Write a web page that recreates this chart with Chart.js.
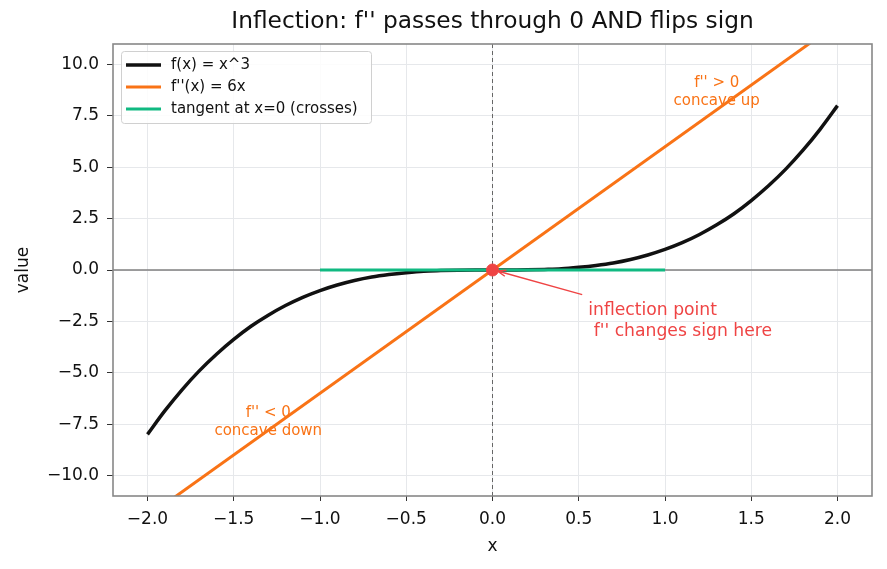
<!DOCTYPE html>
<html>
<head>
<meta charset="utf-8">
<script src="https://cdn.jsdelivr.net/npm/chart.js@4.4.1/dist/chart.umd.min.js"></script>
<style>
  html, body { margin: 0; padding: 0; background: #fff; }
  #chart { display: block; }
</style>
</head>
<body>
<canvas id="chart" width="887" height="569"></canvas>
<script>
// values
const cubeX = [-2, -1.9, -1.8, -1.7, -1.6, -1.5, -1.4, -1.3, -1.2, -1.1, -1, -0.9, -0.8, -0.7, -0.6, -0.5, -0.4, -0.3, -0.2, -0.1, 0,
               0.1, 0.2, 0.3, 0.4, 0.5, 0.6, 0.7, 0.8, 0.9, 1, 1.1, 1.2, 1.3, 1.4, 1.5, 1.6, 1.7, 1.8, 1.9, 2];
const cubeY = [-8, -6.86, -5.83, -4.91, -4.1, -3.38, -2.74, -2.2, -1.73, -1.33, -1, -0.73, -0.51, -0.34, -0.22, -0.13, -0.06, -0.03, -0.01, 0, 0,
               0, 0.01, 0.03, 0.06, 0.13, 0.22, 0.34, 0.51, 0.73, 1, 1.33, 1.73, 2.2, 2.74, 3.38, 4.1, 4.91, 5.83, 6.86, 8];
const secondX = [-2, 2];
const secondY = [-12, 12];
const tangentX = [-1, 1];
const tangentY = [0, 0];
const inflectionX = [0];
const inflectionY = [0];
const xTicks = [-2, -1.5, -1, -0.5, 0, 0.5, 1, 1.5, 2];
const yTicks = [-10, -7.5, -5, -2.5, 0, 2.5, 5, 7.5, 10];
const labels = ["f(x) = x^3", "f''(x) = 6x", "tangent at x=0 (crosses)"];

const FONT = "DejaVu Sans";
const BLACK = "#111111", ORANGE = "#f97316", GREEN = "#10b981", RED = "#ef4444";

const pts = (xs, ys) => xs.map((x, i) => ({ x: x, y: ys[i] }));
const fmt = v => (Math.abs(v) < 1e-9 ? "0.0" : v.toFixed(1).replace("-", "\u2212"));

// axis lines, frame, notes, legend
const extras = {
  id: "extras",
  beforeDatasetsDraw(chart) {
    const { ctx, chartArea: a, scales: { x, y } } = chart;
    ctx.save();
    ctx.beginPath();
    ctx.rect(a.left, a.top, a.right - a.left, a.bottom - a.top);
    ctx.clip();
    ctx.strokeStyle = "#808080";
    ctx.lineWidth = 1.3;
    ctx.beginPath();
    ctx.moveTo(a.left, y.getPixelForValue(0));
    ctx.lineTo(a.right, y.getPixelForValue(0));
    ctx.stroke();
    ctx.strokeStyle = "#666";
    ctx.lineWidth = 1;
    ctx.setLineDash([4, 3]);
    ctx.beginPath();
    ctx.moveTo(x.getPixelForValue(0), a.top);
    ctx.lineTo(x.getPixelForValue(0), a.bottom);
    ctx.stroke();
    ctx.setLineDash([]);

    ctx.fillStyle = ORANGE;
    ctx.font = "15px '" + FONT + "'";
    ctx.textAlign = "center";
    ctx.textBaseline = "middle";
    ctx.fillText("f'' > 0", x.getPixelForValue(1.3), y.getPixelForValue(9.1));
    ctx.fillText("concave up", x.getPixelForValue(1.3), y.getPixelForValue(8.22));
    ctx.fillText("f'' < 0", x.getPixelForValue(-1.3), y.getPixelForValue(-6.95));
    ctx.fillText("concave down", x.getPixelForValue(-1.3), y.getPixelForValue(-7.85));
    ctx.restore();
  },
  afterDatasetsDraw(chart) {
    const { ctx, chartArea: a, scales: { x, y } } = chart;
    ctx.save();
    // arrow to the inflection point
    const x0 = x.getPixelForValue(0.52), y0 = y.getPixelForValue(-1.2);
    const x1 = x.getPixelForValue(0) + 5, y1 = y.getPixelForValue(0) + 1;
    ctx.strokeStyle = RED;
    ctx.lineWidth = 1.4;
    ctx.beginPath();
    ctx.moveTo(x0, y0);
    ctx.lineTo(x1, y1);
    const ang = Math.atan2(y1 - y0, x1 - x0);
    ctx.moveTo(x1 - 9 * Math.cos(ang - 0.35), y1 - 9 * Math.sin(ang - 0.35));
    ctx.lineTo(x1, y1);
    ctx.lineTo(x1 - 9 * Math.cos(ang + 0.35), y1 - 9 * Math.sin(ang + 0.35));
    ctx.stroke();
    ctx.fillStyle = RED;
    ctx.font = "17.2px '" + FONT + "'";
    ctx.textAlign = "left";
    ctx.textBaseline = "middle";
    ctx.fillText("inflection point", x.getPixelForValue(0.555), y.getPixelForValue(-1.95));
    ctx.fillText(" f'' changes sign here", x.getPixelForValue(0.555), y.getPixelForValue(-2.98));

    // frame
    ctx.strokeStyle = "#888";
    ctx.lineWidth = 1.6;
    ctx.strokeRect(a.left, a.top, a.right - a.left, a.bottom - a.top);

    // legend
    const lx = 121, ly = 51, lw = 250, lh = 72;
    ctx.fillStyle = "rgba(255,255,255,0.85)";
    ctx.strokeStyle = "#d0d0d0";
    ctx.lineWidth = 1;
    ctx.beginPath();
    ctx.roundRect(lx + 0.5, ly + 0.5, lw, lh, 3);
    ctx.fill();
    ctx.stroke();
    const cols = [BLACK, ORANGE, GREEN];
    const widths = [3.5, 3, 3];
    ctx.font = "15px '" + FONT + "'";
    labels.forEach((t, i) => {
      const ry = 65 + i * 22;
      ctx.strokeStyle = cols[i];
      ctx.lineWidth = widths[i];
      ctx.beginPath();
      ctx.moveTo(126, ry);
      ctx.lineTo(161, ry);
      ctx.stroke();
      ctx.fillStyle = "#111";
      ctx.fillText(t, 171, ry);
    });

    // title
    ctx.font = "23.3px '" + FONT + "'";
    ctx.textAlign = "center";
    ctx.fillStyle = "#111";
    ctx.fillText("Inflection: f'' passes through 0 AND flips sign", (a.left + a.right) / 2, 22);
    ctx.restore();
  }
};

new Chart(document.getElementById("chart"), {
  type: "line",
  data: {
    datasets: [
      { label: labels[0], data: pts(cubeX, cubeY), borderColor: BLACK, borderWidth: 3.5,
        pointRadius: 0, cubicInterpolationMode: "monotone", order: 4, clip: 0 },
      { label: labels[1], data: pts(secondX, secondY), borderColor: ORANGE, borderWidth: 3,
        pointRadius: 0, order: 3, clip: 0 },
      { label: labels[2], data: pts(tangentX, tangentY), borderColor: GREEN, borderWidth: 3,
        pointRadius: 0, order: 2, clip: 0 },
      { label: "inflection", data: pts(inflectionX, inflectionY), showLine: false,
        pointRadius: 6, pointBackgroundColor: RED, pointBorderColor: RED, order: 1, clip: 8 }
    ]
  },
  options: {
    responsive: false,
    animation: false,
    layout: { padding: { left: 0, right: 15, top: 44, bottom: 0 } },
    plugins: { legend: { display: false }, title: { display: false }, tooltip: { enabled: false } },
    scales: {
      x: {
        type: "linear", min: -2.2, max: 2.2,
        afterFit: s => { s.height = 73; },
        afterBuildTicks: s => { s.ticks = xTicks.map(v => ({ value: v })); },
        ticks: { callback: fmt, color: "#111", font: { family: FONT, size: 17 }, padding: 8, maxRotation: 0 },
        grid: { color: "#e6e8eb", tickColor: "#333", tickLength: 5 },
        border: { display: false },
        title: { display: true, text: "x", color: "#111", font: { family: FONT, size: 17 }, padding: { top: 0, bottom: 12 } }
      },
      y: {
        type: "linear", min: -11, max: 11,
        afterFit: s => { s.width = 113; },
        afterBuildTicks: s => { s.ticks = yTicks.map(v => ({ value: v })); },
        ticks: { callback: fmt, color: "#111", font: { family: FONT, size: 17 }, padding: 8 },
        grid: { color: "#e6e8eb", tickColor: "#333", tickLength: 6 },
        border: { display: false },
        title: { display: true, text: "value", color: "#111", font: { family: FONT, size: 17 }, padding: { top: 13, bottom: 0 } }
      }
    }
  },
  plugins: [extras]
});
</script>
</body>
</html>
